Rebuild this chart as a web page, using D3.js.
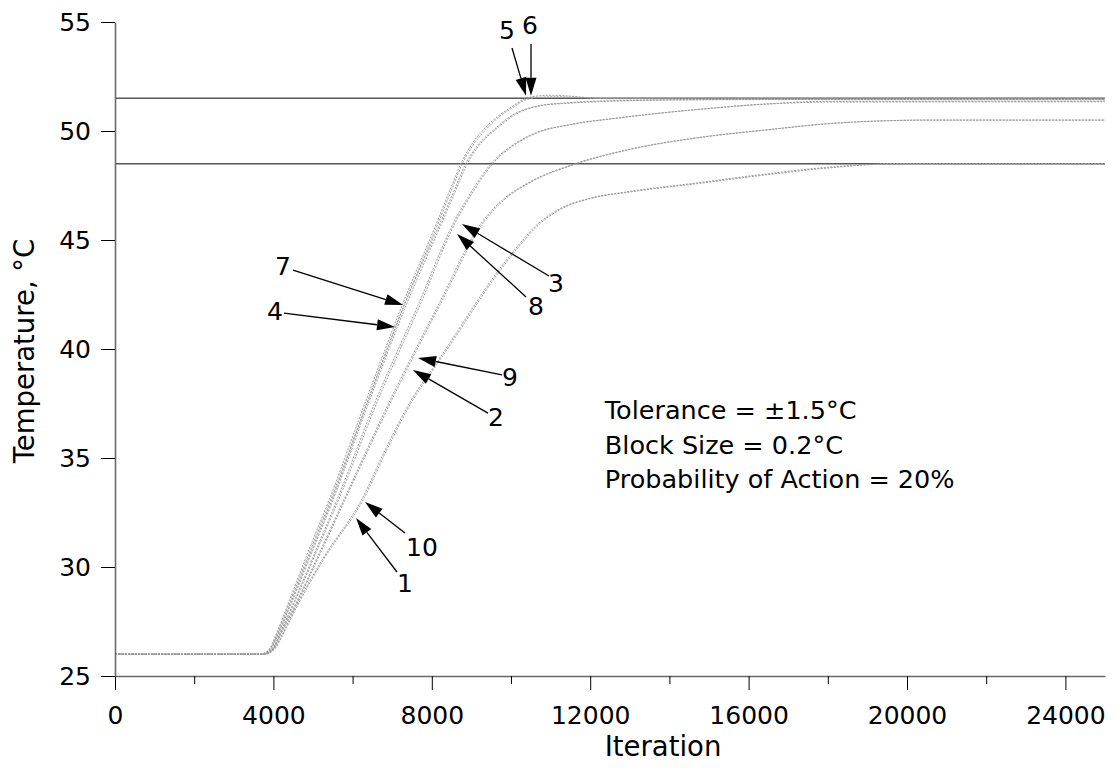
<!DOCTYPE html>
<html>
<head>
<meta charset="utf-8">
<script src="https://cdn.jsdelivr.net/npm/d3@7"></script>
<style>
  html, body { margin: 0; padding: 0; background: #fff; }
  svg { display: block; }
  text { font-family: "DejaVu Sans", Verdana, sans-serif; fill: #000; }
</style>
</head>
<body>
<svg id="chart" width="1117" height="768"></svg>
<script>
// Simulated block temperature against iteration, ten runs: [iteration, temperature °C]
const run1 = [[0,26],[3800,26],[3950,26.1],[4080,26.35],[4200,26.75],[4600,28.2],[5250,30.3],[6300,33.2],[6870,35.4],[7520,37.66],[8207,39.5],[8540,40.4],[9545,43.15],[10200,44.7],[10730,45.75],[11300,46.45],[12000,46.9],[13000,47.2],[14770,47.6],[16500,48.0],[18000,48.3],[19800,48.5],[25000,48.5]];
const run10 = [[0,26],[3780,26],[3930,26.1],[4060,26.35],[4180,26.75],[4570,28.2],[5220,30.3],[6260,33.2],[6830,35.4],[7480,37.66],[8170,39.5],[8500,40.4],[9500,43.15],[10160,44.7],[10690,45.76],[11260,46.46],[11960,46.9],[12960,47.22],[14700,47.62],[16400,48.02],[17900,48.32],[19700,48.5],[25000,48.5]];
const run2 = [[0,26],[3750,26],[3900,26.08],[4030,26.3],[4130,26.7],[4620,28.45],[5230,30.8],[5800,33.05],[7000,37.7],[8200,42.0],[9345,45.9],[9800,46.8],[10500,47.65],[11660,48.5],[13000,49.15],[14770,49.7],[16470,50.05],[18130,50.35],[19500,50.47],[20500,50.5],[25000,50.5]];
const run9 = [[0,26],[3740,26],[3890,26.08],[4020,26.3],[4120,26.7],[4600,28.45],[5200,30.8],[5770,33.05],[6960,37.7],[8160,42.0],[9300,45.9],[9760,46.8],[10460,47.65],[11620,48.5],[12960,49.15],[14730,49.7],[16430,50.05],[18100,50.35],[19450,50.47],[20400,50.5],[25000,50.5]];
const run3 = [[0,26],[3720,26],[3870,26.08],[4000,26.3],[4100,26.7],[4530,28.45],[5080,30.8],[5600,33.05],[6600,37.7],[7650,42.0],[8580,45.9],[9050,47.35],[9520,48.55],[10000,49.3],[10600,49.9],[11500,50.3],[12700,50.6],[14770,51.0],[16500,51.25],[18000,51.36],[25000,51.37]];
const run8 = [[0,26],[3730,26],[3880,26.08],[4010,26.3],[4110,26.7],[4550,28.45],[5110,30.8],[5640,33.05],[6650,37.7],[7700,42.0],[8620,45.9],[9090,47.35],[9560,48.55],[10040,49.3],[10640,49.9],[11540,50.3],[12740,50.6],[14800,51.0],[16550,51.24],[18050,51.33],[25000,51.34]];
const run4 = [[0,26],[3700,26],[3850,26.08],[3970,26.3],[4070,26.7],[4480,28.45],[5000,30.8],[5500,33.05],[6440,37.7],[7350,42.0],[8280,45.9],[8600,47.25],[8910,48.55],[9200,49.35],[9600,50.05],[10150,50.8],[10730,51.15],[11500,51.28],[12250,51.35],[14770,51.44],[17000,51.45],[25000,51.45]];
const run7 = [[0,26],[3690,26],[3840,26.08],[3960,26.3],[4060,26.7],[4460,28.45],[4970,30.8],[5470,33.05],[6400,37.7],[7300,42.0],[8240,45.9],[8560,47.25],[8870,48.55],[9160,49.35],[9560,50.05],[10100,50.8],[10680,51.15],[11450,51.3],[12200,51.37],[14700,51.43],[17000,51.44],[25000,51.44]];
const run5 = [[0,26],[3650,26],[3800,26.08],[3920,26.3],[4020,26.7],[4400,28.45],[4900,30.8],[5400,33.05],[6350,37.7],[7250,42.0],[8150,45.9],[8460,47.3],[8760,48.6],[9050,49.5],[9300,50.05],[9650,50.65],[9970,51.05],[10350,51.48],[10700,51.61],[11060,51.64],[11500,51.6],[12250,51.5],[25000,51.49]];
const run6 = [[0,26],[3670,26],[3820,26.08],[3940,26.3],[4040,26.7],[4430,28.45],[4940,30.8],[5440,33.05],[6400,37.7],[7300,42.0],[8190,45.9],[8500,47.3],[8800,48.6],[9100,49.5],[9360,50.05],[9700,50.65],[10020,51.05],[10400,51.45],[10800,51.55],[11200,51.57],[11700,51.53],[12500,51.48],[25000,51.47]];

const runs = [run1, run2, run3, run4, run5, run6, run7, run8, run9, run10];

// Tolerance band limits (°C)
const bandLimits = [48.5, 51.5];

// Axis ticks
const xMajorTicks = [0, 4000, 8000, 12000, 16000, 20000, 24000];
const xMinorTicks = [2000, 6000, 10000, 14000, 18000, 22000];
const yTicks = [25, 30, 35, 40, 45, 50, 55];

// Run labels with arrows: tip, tail and label position in [iteration, °C]
const callouts = [
  { label: "5",  tip: [10379, 51.62], tail: [10025, 53.81], text: [9899, 54.63] },
  { label: "6",  tip: [10505, 51.62], tail: [10505, 53.99], text: [10480, 54.86] },
  { label: "7",  tip: [7273, 42.02],  tail: [4495, 43.62],  text: [4242, 43.81] },
  { label: "4",  tip: [7071, 41.01],  tail: [4268, 41.65],  text: [4040, 41.74] },
  { label: "3",  tip: [8763, 45.73],  tail: [10960, 43.35], text: [11136, 43.03] },
  { label: "8",  tip: [8636, 45.28],  tail: [10379, 42.39], text: [10631, 41.97] },
  { label: "9",  tip: [7652, 39.59],  tail: [9773, 38.81],  text: [9975, 38.72] },
  { label: "2",  tip: [7525, 39.04],  tail: [9419, 37.06],  text: [9621, 36.88] },
  { label: "10", tip: [6313, 32.98],  tail: [7323, 31.56],  text: [7753, 30.92] },
  { label: "1",  tip: [6086, 32.25],  tail: [7121, 29.77],  text: [7323, 29.27] }
];

const notes = ["Tolerance = \u00B11.5\u00B0C", "Block Size = 0.2\u00B0C", "Probability of Action = 20%"];

const svg = d3.select("#chart");
const x = d3.scaleLinear().domain([0, 25000]).range([115, 1105]);
const y = d3.scaleLinear().domain([25, 55]).range([676, 22]);

// Tolerance limit lines
svg.append("g").selectAll("line").data(bandLimits).join("line")
  .attr("x1", x(0)).attr("x2", x(25000))
  .attr("y1", d => y(d)).attr("y2", d => y(d))
  .attr("stroke", "#555").attr("stroke-width", 1.5);

// Temperature traces
const line = d3.line().x(d => x(d[0])).y(d => y(d[1])).curve(d3.curveMonotoneX);
svg.append("g").selectAll("path").data(runs).join("path")
  .attr("d", line)
  .attr("fill", "none")
  .attr("stroke", "#9a9a9a")
  .attr("stroke-width", 1)
  .attr("stroke-dasharray", "2,1.3");

// Axes
const fontSize = 25;
const xAxis = svg.append("g").attr("transform", `translate(0,${y(25)})`)
  .call(d3.axisBottom(x).tickValues(xMajorTicks).tickSize(14).tickSizeOuter(0)
    .tickPadding(16).tickFormat(d3.format("d")));
const xMinor = svg.append("g").attr("transform", `translate(0,${y(25)})`)
  .call(d3.axisBottom(x).tickValues(xMinorTicks).tickSize(8).tickSizeOuter(0).tickFormat(""));
xMinor.select(".domain").remove();

const yAxis = svg.append("g").attr("transform", `translate(${x(0)},0)`)
  .call(d3.axisLeft(y).tickValues(yTicks).tickSize(14).tickSizeOuter(0).tickPadding(10));

[xAxis, yAxis].forEach(g => {
  g.select(".domain").attr("stroke", "#6a6a6a").attr("stroke-width", 1.6);
  g.selectAll(".tick text").attr("font-size", fontSize).attr("font-family", "DejaVu Sans").attr("fill", "#000");
});
svg.selectAll(".tick line").attr("stroke", "#000").attr("stroke-width", 1);

// Axis titles
const titleSize = 27.5;
svg.append("text").attr("x", 663).attr("y", 756)
  .attr("text-anchor", "middle").attr("font-size", titleSize).text("Iteration");
svg.append("text").attr("transform", "translate(34,351) rotate(-90)")
  .attr("text-anchor", "middle").attr("font-size", titleSize).text("Temperature, \u00B0C");

// Parameter notes
svg.append("g").selectAll("text").data(notes).join("text")
  .attr("x", x(12370))
  .attr("y", (d, i) => 419 + i * 34.5)
  .attr("font-size", 25.5)
  .text(d => d);

// Callout arrows
const headLen = 18, headHalf = 5.5;
const cg = svg.append("g");
callouts.forEach(c => {
  const tx = x(c.tip[0]), ty = y(c.tip[1]);
  const sx = x(c.tail[0]), sy = y(c.tail[1]);
  const ang = Math.atan2(ty - sy, tx - sx);
  const bx = tx - headLen * Math.cos(ang), by = ty - headLen * Math.sin(ang);
  cg.append("line").attr("x1", sx).attr("y1", sy).attr("x2", bx).attr("y2", by)
    .attr("stroke", "#000").attr("stroke-width", 1.3);
  const px = -Math.sin(ang) * headHalf, py = Math.cos(ang) * headHalf;
  cg.append("polygon")
    .attr("points", [[tx, ty], [bx + px, by + py], [bx - px, by - py]].map(p => p.join(",")).join(" "))
    .attr("fill", "#000");
  cg.append("text").attr("x", x(c.text[0])).attr("y", y(c.text[1]))
    .attr("text-anchor", "middle").attr("dy", "0.36em")
    .attr("font-size", fontSize).text(c.label);
});
</script>
</body>
</html>
